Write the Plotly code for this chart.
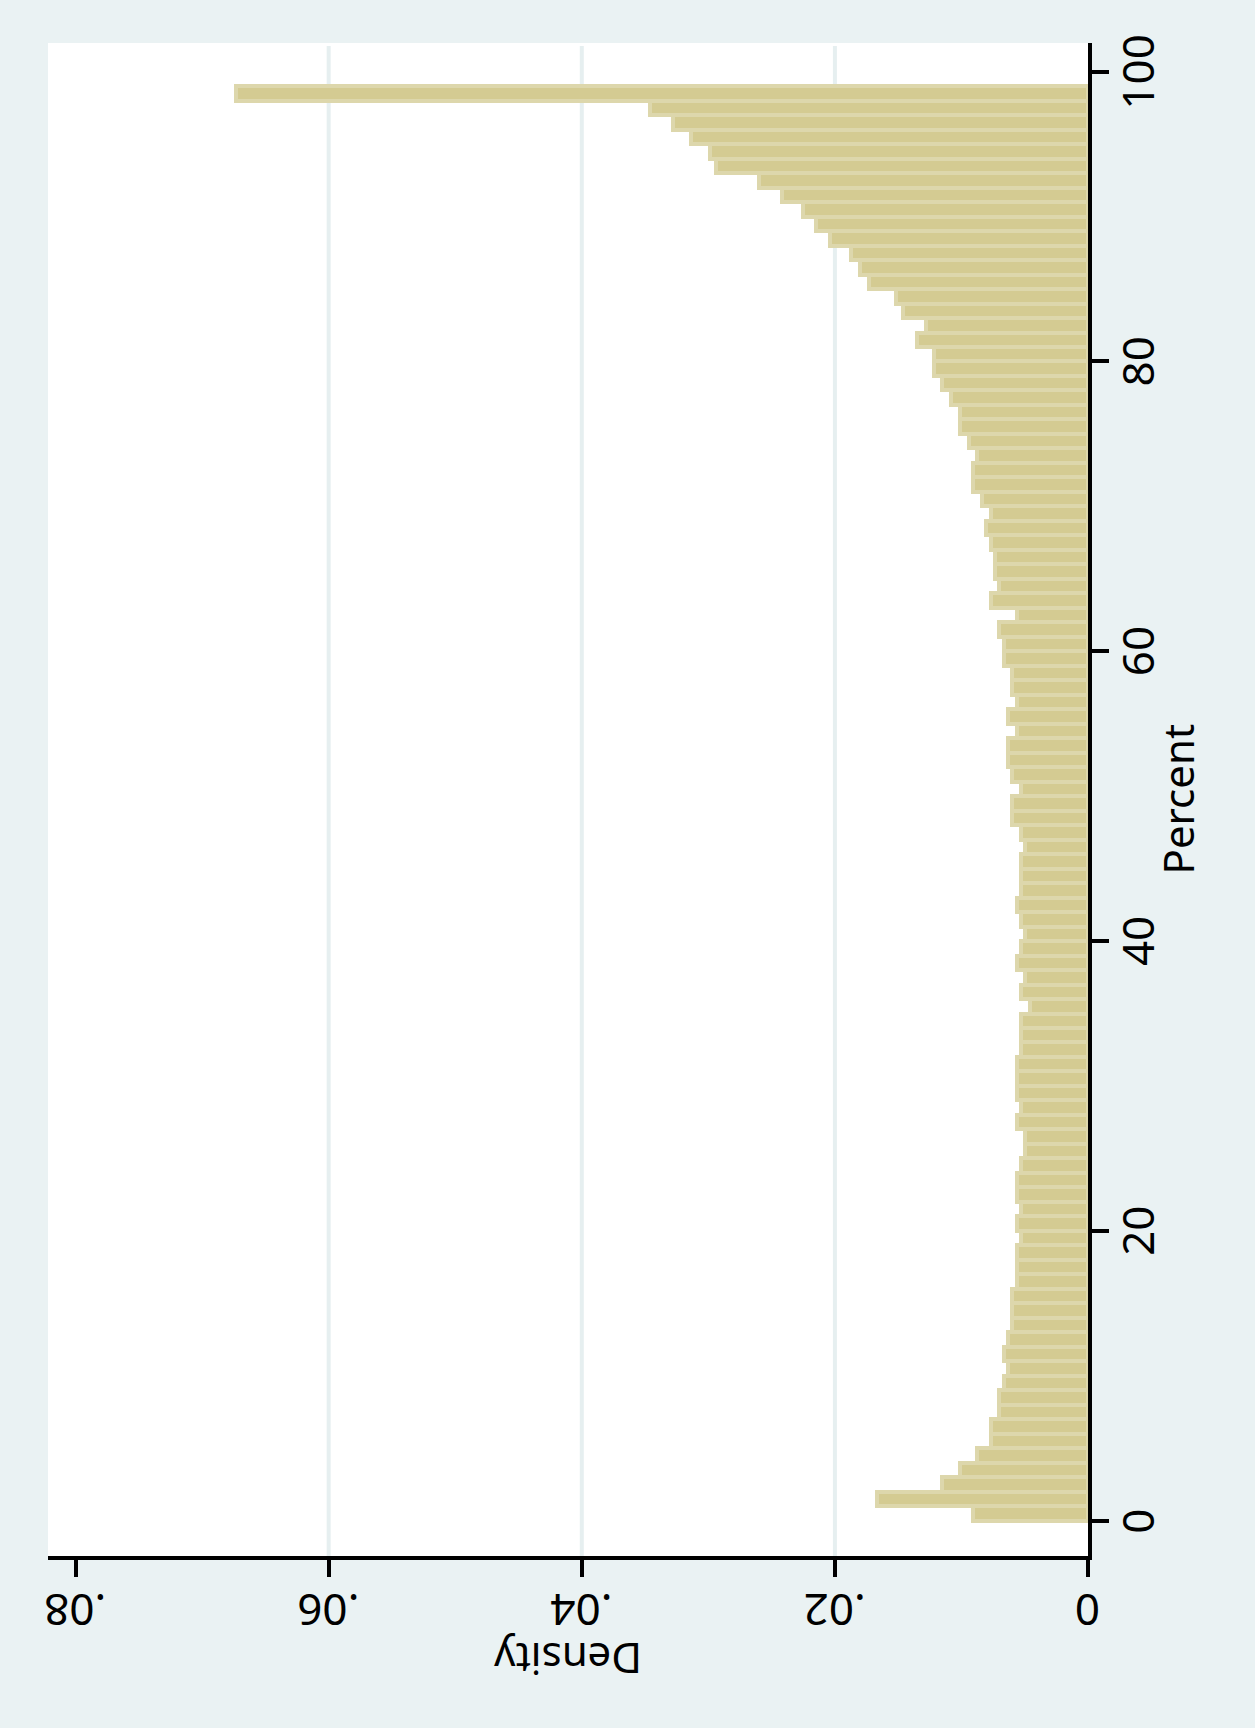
import plotly.graph_objects as go

# Histogram of Percent (bin width 1), drawn with the Percent scale vertical
# on the right and the Density scale running right-to-left along the bottom.
bin_starts = list(range(0, 99))
bin_width = 1.0

density = [
    0.00909, 0.01667, 0.01151, 0.01011, 0.00874, 0.00769, 0.00769, 0.00701, 0.00701, 0.00666,
    0.00632, 0.00666, 0.00632, 0.00598, 0.00598, 0.00598, 0.00564, 0.00564, 0.00564, 0.00529,
    0.00564, 0.00529, 0.00564, 0.00564, 0.00529, 0.00495, 0.00495, 0.00564, 0.00529, 0.00564,
    0.00564, 0.00564, 0.00529, 0.00529, 0.00529, 0.00461, 0.00529, 0.00495, 0.00564, 0.00529,
    0.00495, 0.00529, 0.00564, 0.00529, 0.00529, 0.00529, 0.00495, 0.00529, 0.00598, 0.00598,
    0.00529, 0.00598, 0.00632, 0.00632, 0.00564, 0.00632, 0.00564, 0.00598, 0.00598, 0.00666,
    0.00666, 0.00701, 0.00564, 0.00769, 0.00701, 0.00735, 0.00735, 0.00769, 0.00806, 0.00769,
    0.00840, 0.00909, 0.00909, 0.00874, 0.00943, 0.01011, 0.01011, 0.01083, 0.01151, 0.01220,
    0.01220, 0.01350, 0.01280, 0.01460, 0.01520, 0.01730, 0.01800, 0.01870, 0.02040, 0.02150,
    0.02250, 0.02420, 0.02600, 0.02940, 0.02990, 0.03140, 0.03280, 0.03460, 0.06730,
]

density_ticks = [0.08, 0.06, 0.04, 0.02, 0]
density_labels = [".08", ".06", ".04", ".02", "0"]
percent_ticks = [0, 20, 40, 60, 80, 100]
percent_labels = ["0", "20", "40", "60", "80", "100"]

x_title = "Density"
y_title = "Percent"

FONT = "Noto Sans"
BG = "#EAF2F3"
BAR_FILL = "#D4CB92"
BAR_EDGE = "#DDD7AC"
GRID = "#E6EFF0"
LABEL_SIZE = 44
TITLE_SIZE = 42

centers = [s + bin_width / 2 for s in bin_starts]

fig = go.Figure()
fig.add_trace(go.Bar(
    y=centers,
    x=density,
    width=bin_width,
    orientation="h",
    marker=dict(color=BAR_FILL, line=dict(color=BAR_EDGE, width=4)),
    hoverinfo="x+y",
))

# vertical grid lines at the interior density ticks only
for t in density_ticks:
    if 0 < t < max(density_ticks):
        fig.add_shape(type="line", xref="x", yref="paper", x0=t, x1=t, y0=0, y1=0.998,
                      line=dict(color=GRID, width=4), layer="below")

# tick labels: upside-down along the density axis, turned along the percent axis
annotations = []
for v, lab in zip(density_ticks, density_labels):
    annotations.append(dict(text=lab, xref="x", yref="paper", x=v, y=-0.0364,
                            xanchor="center", yanchor="middle", textangle=180,
                            showarrow=False, font=dict(size=LABEL_SIZE, family=FONT)))
for v, lab in zip(percent_ticks, percent_labels):
    annotations.append(dict(text=lab, xref="paper", yref="y", x=1.0471, y=v,
                            xanchor="center", yanchor="middle", textangle=-90,
                            showarrow=False, font=dict(size=LABEL_SIZE, family=FONT)))
annotations.append(dict(text=x_title, xref="paper", yref="paper", x=0.5, y=-0.0685,
                        xanchor="center", yanchor="middle", textangle=180, showarrow=False,
                        font=dict(size=TITLE_SIZE, family=FONT)))
annotations.append(dict(text=y_title, xref="paper", yref="paper", x=1.0856, y=0.5,
                        xanchor="center", yanchor="middle", textangle=-90, showarrow=False,
                        font=dict(size=TITLE_SIZE, family=FONT)))

fig.update_layout(
    width=1255,
    height=1728,
    margin=dict(l=48, r=167, t=43, b=172, autoexpand=False),
    paper_bgcolor=BG,
    plot_bgcolor="white",
    bargap=0,
    showlegend=False,
    font=dict(family=FONT, color="black", size=LABEL_SIZE),
    xaxis=dict(
        range=[0.08218, 0],
        tickvals=density_ticks,
        showticklabels=False,
        ticks="outside",
        ticklen=17,
        tickwidth=3.5,
        tickcolor="black",
        showline=True,
        linecolor="black",
        linewidth=3.5,
        showgrid=False,
        zeroline=False,
        automargin=False,
    ),
    yaxis=dict(
        side="right",
        range=[-2.44, 101.98],
        tickvals=percent_ticks,
        showticklabels=False,
        ticks="outside",
        ticklen=17,
        tickwidth=3.5,
        tickcolor="black",
        showline=True,
        linecolor="black",
        linewidth=3.5,
        showgrid=False,
        zeroline=False,
        automargin=False,
    ),
    annotations=annotations,
)

fig.write_html("out.html")
